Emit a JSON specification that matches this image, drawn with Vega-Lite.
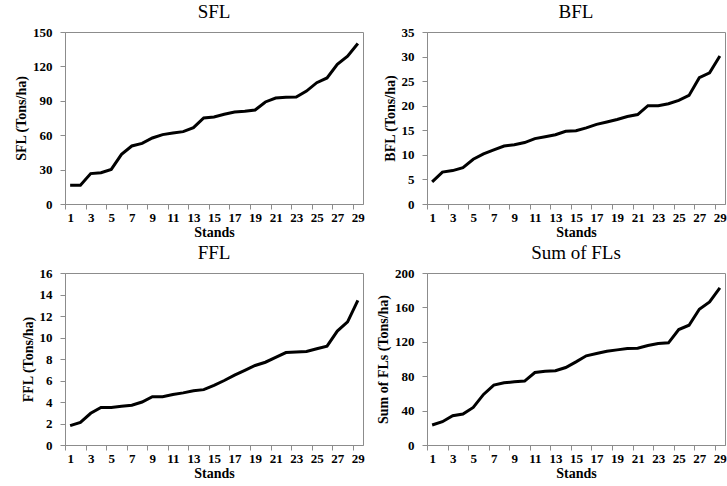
{
  "$schema": "https://vega.github.io/schema/vega-lite/v6.json",
  "padding": {"left": 14, "top": 2, "right": 0, "bottom": 0},
  "background": "white",
  "config": {
    "font": "Liberation Serif",
    "view": {"stroke": "#8c8c8c", "strokeWidth": 1},
    "title": {"font": "Liberation Serif", "fontSize": 19, "fontWeight": "normal", "color": "black", "offset": 4},
    "axis": {
      "labelFont": "Liberation Serif", "labelFontSize": 13, "labelFontWeight": "bold", "labelColor": "black",
      "titleFont": "Liberation Serif", "titleFontSize": 14, "titleFontWeight": "bold", "titleColor": "black",
      "domainColor": "#8c8c8c", "tickColor": "#8c8c8c", "tickSize": 5, "grid": false
    },
    "line": {"color": "black", "strokeWidth": 3}
  },
  "datasets": {
    "sfl": [
      {"stand": 1, "value": 16.3}, {"stand": 2, "value": 16.3}, {"stand": 3, "value": 26.5}, {"stand": 4, "value": 27.3},
      {"stand": 5, "value": 30.2}, {"stand": 6, "value": 43.3}, {"stand": 7, "value": 50.6}, {"stand": 8, "value": 52.9},
      {"stand": 9, "value": 57.6}, {"stand": 10, "value": 60.5}, {"stand": 11, "value": 61.9}, {"stand": 12, "value": 63.1},
      {"stand": 13, "value": 66.6}, {"stand": 14, "value": 75.0}, {"stand": 15, "value": 75.9}, {"stand": 16, "value": 78.2},
      {"stand": 17, "value": 80.2}, {"stand": 18, "value": 80.8}, {"stand": 19, "value": 82.0}, {"stand": 20, "value": 89.0},
      {"stand": 21, "value": 92.4}, {"stand": 22, "value": 93.0}, {"stand": 23, "value": 93.3}, {"stand": 24, "value": 98.5},
      {"stand": 25, "value": 105.8}, {"stand": 26, "value": 109.9}, {"stand": 27, "value": 121.8}, {"stand": 28, "value": 129.0},
      {"stand": 29, "value": 140.0}
    ],
    "bfl": [
      {"stand": 1, "value": 4.5}, {"stand": 2, "value": 6.5}, {"stand": 3, "value": 6.8}, {"stand": 4, "value": 7.4},
      {"stand": 5, "value": 9.1}, {"stand": 6, "value": 10.2}, {"stand": 7, "value": 11.0}, {"stand": 8, "value": 11.8},
      {"stand": 9, "value": 12.05}, {"stand": 10, "value": 12.5}, {"stand": 11, "value": 13.3}, {"stand": 12, "value": 13.7},
      {"stand": 13, "value": 14.1}, {"stand": 14, "value": 14.8}, {"stand": 15, "value": 14.9}, {"stand": 16, "value": 15.5},
      {"stand": 17, "value": 16.2}, {"stand": 18, "value": 16.7}, {"stand": 19, "value": 17.2}, {"stand": 20, "value": 17.8},
      {"stand": 21, "value": 18.2}, {"stand": 22, "value": 20.0}, {"stand": 23, "value": 20.0}, {"stand": 24, "value": 20.4},
      {"stand": 25, "value": 21.1}, {"stand": 26, "value": 22.1}, {"stand": 27, "value": 25.7}, {"stand": 28, "value": 26.7},
      {"stand": 29, "value": 30.1}
    ],
    "ffl": [
      {"stand": 1, "value": 1.8}, {"stand": 2, "value": 2.1}, {"stand": 3, "value": 2.95}, {"stand": 4, "value": 3.5},
      {"stand": 5, "value": 3.5}, {"stand": 6, "value": 3.6}, {"stand": 7, "value": 3.7}, {"stand": 8, "value": 4.0},
      {"stand": 9, "value": 4.5}, {"stand": 10, "value": 4.5}, {"stand": 11, "value": 4.7}, {"stand": 12, "value": 4.85},
      {"stand": 13, "value": 5.05}, {"stand": 14, "value": 5.15}, {"stand": 15, "value": 5.55}, {"stand": 16, "value": 6.0},
      {"stand": 17, "value": 6.5}, {"stand": 18, "value": 6.95}, {"stand": 19, "value": 7.4}, {"stand": 20, "value": 7.7},
      {"stand": 21, "value": 8.15}, {"stand": 22, "value": 8.6}, {"stand": 23, "value": 8.65}, {"stand": 24, "value": 8.7},
      {"stand": 25, "value": 8.95}, {"stand": 26, "value": 9.2}, {"stand": 27, "value": 10.6}, {"stand": 28, "value": 11.45},
      {"stand": 29, "value": 13.45}
    ],
    "sum": [
      {"stand": 1, "value": 23.2}, {"stand": 2, "value": 27.1}, {"stand": 3, "value": 34.0}, {"stand": 4, "value": 36.0},
      {"stand": 5, "value": 43.7}, {"stand": 6, "value": 58.8}, {"stand": 7, "value": 69.6}, {"stand": 8, "value": 72.3},
      {"stand": 9, "value": 73.5}, {"stand": 10, "value": 74.3}, {"stand": 11, "value": 84.3}, {"stand": 12, "value": 85.8},
      {"stand": 13, "value": 86.3}, {"stand": 14, "value": 90.1}, {"stand": 15, "value": 96.7}, {"stand": 16, "value": 103.7},
      {"stand": 17, "value": 106.4}, {"stand": 18, "value": 109.1}, {"stand": 19, "value": 110.6}, {"stand": 20, "value": 112.2},
      {"stand": 21, "value": 112.6}, {"stand": 22, "value": 115.7}, {"stand": 23, "value": 118.0}, {"stand": 24, "value": 118.8},
      {"stand": 25, "value": 134.2}, {"stand": 26, "value": 139.3}, {"stand": 27, "value": 157.8}, {"stand": 28, "value": 166.3},
      {"stand": 29, "value": 182.6}
    ]
  },
  "columns": 2,
  "bounds": "flush",
  "spacing": {"column": 64, "row": 69},
  "concat": [
    {
      "title": "SFL",
      "width": 298, "height": 172,
      "data": {"name": "sfl"},
      "mark": {"type": "line"},
      "encoding": {
        "x": {"field": "stand", "type": "quantitative", "title": "Stands",
          "scale": {"domain": [0.5, 29.5], "nice": false, "zero": false},
          "axis": {"values": [0.5,1,2.5,3,4.5,5,6.5,7,8.5,9,10.5,11,12.5,13,14.5,15,16.5,17,18.5,19,20.5,21,22.5,23,24.5,25,26.5,27,28.5,29],
            "labelExpr": "datum.value % 2 == 1 ? datum.label : ''",
            "tickOpacity": {"condition": {"test": "datum.value % 2 == 1", "value": 0}, "value": 1},
            "labelPadding": 2, "titlePadding": 1, "labelFlush": false, "labelOverlap": false}},
        "y": {"field": "value", "type": "quantitative", "title": "SFL (Tons/ha)",
          "scale": {"domain": [0, 150], "nice": false},
          "axis": {"values": [0, 30, 60, 90, 120, 150], "labelPadding": 8, "titlePadding": 4}}
      }
    },
    {
      "title": "BFL",
      "width": 298, "height": 172,
      "data": {"name": "bfl"},
      "mark": {"type": "line"},
      "encoding": {
        "x": {"field": "stand", "type": "quantitative", "title": "Stands",
          "scale": {"domain": [0.5, 29.5], "nice": false, "zero": false},
          "axis": {"values": [0.5,1,2.5,3,4.5,5,6.5,7,8.5,9,10.5,11,12.5,13,14.5,15,16.5,17,18.5,19,20.5,21,22.5,23,24.5,25,26.5,27,28.5,29],
            "labelExpr": "datum.value % 2 == 1 ? datum.label : ''",
            "tickOpacity": {"condition": {"test": "datum.value % 2 == 1", "value": 0}, "value": 1},
            "labelPadding": 2, "titlePadding": 1, "labelFlush": false, "labelOverlap": false}},
        "y": {"field": "value", "type": "quantitative", "title": "BFL (Tons/ha)",
          "scale": {"domain": [0, 35], "nice": false},
          "axis": {"values": [0, 5, 10, 15, 20, 25, 30, 35], "labelPadding": 8, "titlePadding": 4}}
      }
    },
    {
      "title": "FFL",
      "width": 298, "height": 172,
      "data": {"name": "ffl"},
      "mark": {"type": "line"},
      "encoding": {
        "x": {"field": "stand", "type": "quantitative", "title": "Stands",
          "scale": {"domain": [0.5, 29.5], "nice": false, "zero": false},
          "axis": {"values": [0.5,1,2.5,3,4.5,5,6.5,7,8.5,9,10.5,11,12.5,13,14.5,15,16.5,17,18.5,19,20.5,21,22.5,23,24.5,25,26.5,27,28.5,29],
            "labelExpr": "datum.value % 2 == 1 ? datum.label : ''",
            "tickOpacity": {"condition": {"test": "datum.value % 2 == 1", "value": 0}, "value": 1},
            "labelPadding": 2, "titlePadding": 1, "labelFlush": false, "labelOverlap": false}},
        "y": {"field": "value", "type": "quantitative", "title": "FFL (Tons/ha)",
          "scale": {"domain": [0, 16], "nice": false},
          "axis": {"values": [0, 2, 4, 6, 8, 10, 12, 14, 16], "labelPadding": 8, "titlePadding": 4}}
      }
    },
    {
      "title": "Sum of FLs",
      "width": 298, "height": 172,
      "data": {"name": "sum"},
      "mark": {"type": "line"},
      "encoding": {
        "x": {"field": "stand", "type": "quantitative", "title": "Stands",
          "scale": {"domain": [0.5, 29.5], "nice": false, "zero": false},
          "axis": {"values": [0.5,1,2.5,3,4.5,5,6.5,7,8.5,9,10.5,11,12.5,13,14.5,15,16.5,17,18.5,19,20.5,21,22.5,23,24.5,25,26.5,27,28.5,29],
            "labelExpr": "datum.value % 2 == 1 ? datum.label : ''",
            "tickOpacity": {"condition": {"test": "datum.value % 2 == 1", "value": 0}, "value": 1},
            "labelPadding": 2, "titlePadding": 1, "labelFlush": false, "labelOverlap": false}},
        "y": {"field": "value", "type": "quantitative", "title": "Sum of FLs (Tons/ha)",
          "scale": {"domain": [0, 200], "nice": false},
          "axis": {"values": [0, 40, 80, 120, 160, 200], "labelPadding": 8, "titlePadding": 4}}
      }
    }
  ]
}
